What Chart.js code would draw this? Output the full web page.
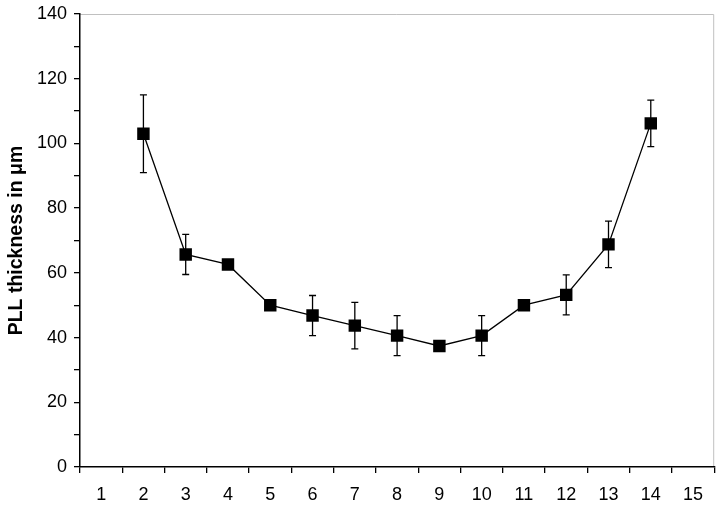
<!DOCTYPE html>
<html>
<head>
<meta charset="utf-8">
<script src="https://cdn.jsdelivr.net/npm/chart.js@4"></script>
<style>
html,body{margin:0;padding:0;background:#fff;}
#wrap{width:723px;height:507px;}
</style>
</head>
<body>
<div id="wrap"><canvas id="c" width="723" height="507"></canvas></div>
<script>
const categories = ['1','2','3','4','5','6','7','8','9','10','11','12','13','14','15'];
const thickness = [null, 103.0, 65.7, 62.6, 50.0, 46.8, 43.7, 40.6, 37.4, 40.6, 50.0, 53.2, 68.8, 106.2, null];
const errors    = [null, 12.0, 6.2, 0, 0, 6.2, 7.2, 6.2, 0, 6.2, 0, 6.2, 7.2, 7.2, null];
const yAxisTitle = 'PLL thickness in \u03bcm';

const errorBarPlugin = {
  id: 'errorBars',
  beforeDatasetsDraw(chart) {
    const ctx = chart.ctx;
    const xs = chart.scales.x, ys = chart.scales.y;
    ctx.save();
    ctx.strokeStyle = '#000';
    ctx.lineWidth = 1.3;
    thickness.forEach((v, i) => {
      if (v == null || !errors[i]) return;
      const x = xs.getPixelForValue(i);
      const yt = ys.getPixelForValue(v + errors[i]);
      const yb = ys.getPixelForValue(v - errors[i]);
      ctx.beginPath();
      ctx.moveTo(x, yt); ctx.lineTo(x, yb);
      ctx.moveTo(x - 3.5, yt); ctx.lineTo(x + 3.5, yt);
      ctx.moveTo(x - 3.5, yb); ctx.lineTo(x + 3.5, yb);
      ctx.stroke();
    });
    ctx.restore();
  }
};

const framePlugin = {
  id: 'frame',
  beforeDraw(chart) {
    const a = chart.chartArea, ctx = chart.ctx;
    ctx.save();
    ctx.strokeStyle = '#c0c0c0';
    ctx.lineWidth = 1;
    ctx.beginPath();
    ctx.moveTo(a.left, a.top + 0.5); ctx.lineTo(a.right - 0.5, a.top + 0.5); ctx.lineTo(a.right - 0.5, a.bottom);
    ctx.stroke();
    ctx.restore();
  }
};

new Chart(document.getElementById('c'), {
  type: 'line',
  data: {
    labels: categories,
    datasets: [{
      data: thickness,
      borderColor: '#000',
      borderWidth: 1.3,
      backgroundColor: '#000',
      pointStyle: 'rect',
      pointRadius: 8.8,
      pointBorderWidth: 0,
      pointBackgroundColor: '#000',
      spanGaps: false,
      tension: 0
    }]
  },
  options: {
    responsive: false,
    animation: false,
    devicePixelRatio: 1,
    layout: { padding: { left: 0, right: 8, top: 14, bottom: 0 } },
    plugins: { legend: { display: false }, tooltip: { enabled: false } },
    scales: {
      x: {
        type: 'category',
        offset: true,
        grid: { display: true, offset: true, drawOnChartArea: false, drawTicks: true, tickLength: 6, color: '#000', lineWidth: 1.3 },
        border: { display: true, color: '#000', width: 1.5 },
        ticks: { color: '#000', font: { family: 'Liberation Sans, Arial', size: 18 }, padding: 11, autoSkip: false, maxRotation: 0 },
        afterFit(s) { s.height = 40; s.paddingLeft = 0; s.paddingRight = 0; }
      },
      y: {
        min: 0, max: 140,
        grid: { display: true, drawOnChartArea: false, drawTicks: true, tickLength: 6, color: '#000', lineWidth: 1.3 },
        border: { display: true, color: '#000', width: 1.5 },
        ticks: {
          stepSize: 10, autoSkip: false, color: '#000', padding: 7,
          font: { family: 'Liberation Sans, Arial', size: 18 },
          callback: (v) => (v % 20 === 0 ? String(v) : '')
        },
        title: {
          display: true, text: yAxisTitle, color: '#000',
          font: { family: 'Liberation Sans, Arial', size: 19.5, weight: 'bold' },
          padding: { top: 5, bottom: 0 }
        },
        afterFit(s) { s.width = 80; s.paddingTop = 0; s.paddingBottom = 0; }
      }
    }
  },
  plugins: [framePlugin, errorBarPlugin]
});
</script>
</body>
</html>
